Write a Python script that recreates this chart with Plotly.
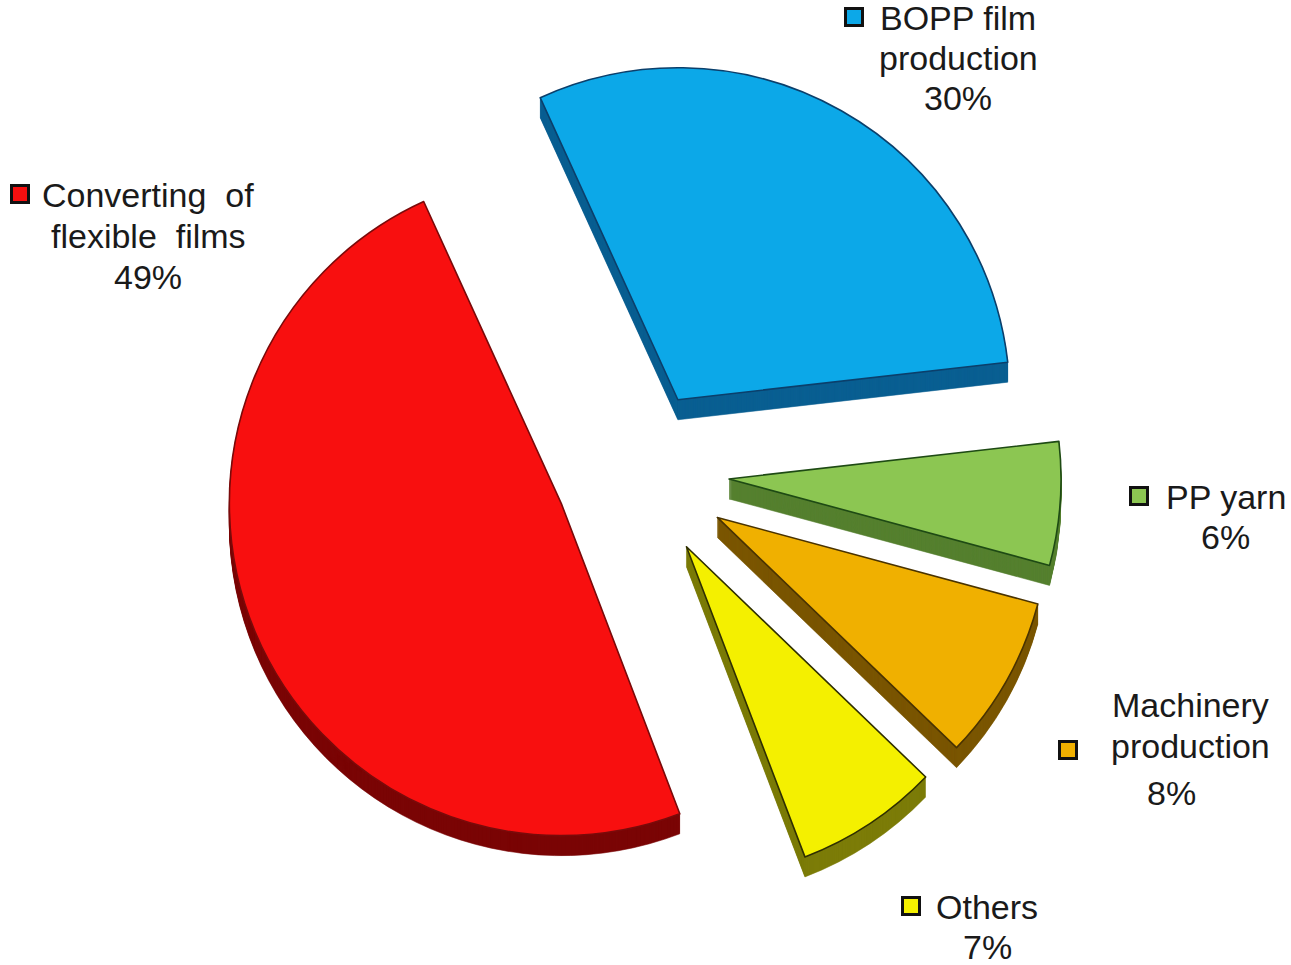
import plotly.graph_objects as go

# Data
categories = ["BOPP film production", "PP yarn", "Machinery production", "Others", "Converting of flexible films"]
values = [30, 6, 8, 7, 49]
top_colors = ["#0CA8E8", "#8CC652", "#F0B000", "#F4F000", "#F80F0F"]
side_colors = ["#0A5F92", "#55802F", "#7A5600", "#7C7C08", "#7A0505"]
edge_colors = ["#0B3F6B", "#1E4A14", "#4A3300", "#2F2F00", "#7A0A0A"]
pulls = [0.25, 0.278, 0.278, 0.27, 0.247]

label_lines = [
    "BOPP film", "production", "30%",
    "Converting\u00a0 of", "flexible\u00a0 films", "49%",
    "PP yarn", "6%",
    "Machinery", "production", "8%",
    "Others", "7%",
]
label_x = [958, 958, 958, 148, 148, 148, 1226, 1225, 1190, 1190, 1171, 987, 987]
label_y = [18, 58, 98, 195, 236, 277, 497, 537, 705, 746, 793, 907, 947]

key_x = [854, 1139, 1068, 911, 20]
key_y = [17, 496, 750, 906, 194]

# Layout constants
W, H = 1291, 965
CX, CY = 637, 472
RADIUS = 332
ROTATION = -24.5
DEPTH = 20
half = RADIUS * (1 + max(pulls))


def pie_layer(offset, colors, line_colors, line_width):
    return go.Pie(
        labels=categories,
        values=values,
        sort=False,
        direction="clockwise",
        rotation=ROTATION,
        pull=pulls,
        textinfo="none",
        hoverinfo="label+percent",
        showlegend=False,
        marker=dict(colors=colors, line=dict(color=line_colors, width=line_width)),
        domain=dict(
            x=[(CX - half) / W, (CX + half) / W],
            y=[1 - (CY + offset + half) / H, 1 - (CY + offset - half) / H],
        ),
    )


fig = go.Figure()
for off in range(DEPTH, 0, -1):
    fig.add_trace(pie_layer(off, side_colors, side_colors, 0.6))
fig.add_trace(pie_layer(0, top_colors, edge_colors, 1.6))

fig.add_trace(go.Scatter(
    x=key_x, y=key_y, mode="markers", showlegend=False, hoverinfo="skip",
    marker=dict(symbol="square", size=17, color=top_colors, line=dict(color="#111111", width=3)),
))

for text, x, y in zip(label_lines, label_x, label_y):
    fig.add_annotation(
        x=x, y=y, xref="x", yref="y", text=text, showarrow=False,
        xanchor="center", yanchor="middle",
        font=dict(family="Liberation Sans, Arial, sans-serif", size=34, color="#1a1a1a"),
    )

fig.update_layout(
    width=W, height=H, autosize=False,
    margin=dict(l=0, r=0, t=0, b=0),
    paper_bgcolor="white", plot_bgcolor="white",
    xaxis=dict(range=[0, W], visible=False, domain=[0, 1], fixedrange=True),
    yaxis=dict(range=[H, 0], visible=False, domain=[0, 1], fixedrange=True),
)

fig.write_html(
    "out.html",
    config={"displayModeBar": False},
    post_script="document.body.style.margin='0';document.documentElement.style.overflow='hidden';",
)
